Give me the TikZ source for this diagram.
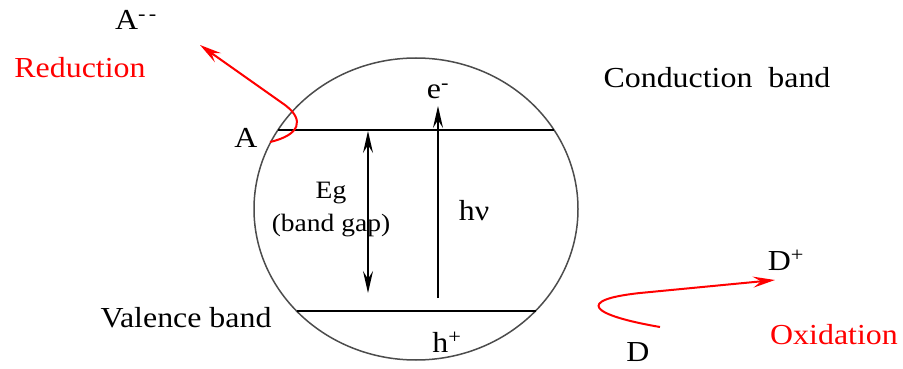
\documentclass[tikz,border=0pt]{standalone}
\usepackage{fontspec}
\setmainfont{Liberation Serif}[FakeStretch=1.1]
\usetikzlibrary{arrows.meta}
\begin{document}
\begin{tikzpicture}[x=1pt,y=-1pt,
  lbl/.style={inner sep=0pt,font=\fontsize{29}{32}\selectfont},
  small/.style={inner sep=0pt,font=\fontsize{25}{28}\selectfont},
  redlbl/.style={lbl,text=red},
  band/.style={line width=2pt,black},
  tip/.style={},
  arr/.style={line width=1.5pt,-{Stealth[length=22pt,width=10pt,inset=8pt]}},
  dblarr/.style={line width=1.5pt,{Stealth[length=22pt,width=10pt,inset=8pt]}-{Stealth[length=22pt,width=10pt,inset=8pt]}},
  redarr/.style={line width=2pt,red,-{Stealth[length=22pt,width=11pt,inset=8pt]}}]
\useasboundingbox (0,0) rectangle (903,369);
% particle
\draw[line width=1.5pt,black!70] (416,209) ellipse [x radius=162, y radius=151];
% bands
\coordinate (cbL) at (278,130);
\coordinate (cbR) at (554,130);
\coordinate (vbL) at (297,311);
\coordinate (vbR) at (536,311);
\draw[band] (cbL) -- (cbR);
\draw[band] (vbL) -- (vbR);
% labels
\node[lbl] (Am) at (136,20) {A\textsuperscript{-\,-}};
\node[redlbl] (red) at (80,68) {Reduction};
\node[lbl] (A) at (246,138) {A};
\node[lbl] (cb) at (717,78) {Conduction\ \ band};
\node[lbl] (e) at (438,91) {e\textsuperscript{-}};
\node[small] (eg) at (331,193) {Eg};
\node[small] (bg) at (331,226) {(band gap)};
\node[lbl] (hv) at (474,211) {hν};
\node[lbl] (vb) at (186,318) {Valence band};
\node[lbl] (hp) at (447,342) {h\textsuperscript{+}};
\node[lbl] (D) at (638,352) {D};
\node[lbl] (Dp) at (786,260) {D\textsuperscript{+}};
\node[redlbl] (ox) at (834,335) {Oxidation};
% arrows
\coordinate (egT) at (368,131);
\coordinate (egB) at (368,293);
\draw[dblarr] (egT) -- (egB);
\coordinate (hvB) at (438,298);
\coordinate (hvT) at (438,106);
\draw[arr] (hvB) -- (hvT);
% red curves
\coordinate (rS) at (270,142);
\coordinate (rE) at (200,45);
\draw[redarr] (rS) .. controls (300,135) and (305,120) .. (285,105) -- (rE);
\coordinate (oS) at (660,327);
\coordinate (oE) at (775,280);
\draw[redarr] (oS) .. controls (590,315) and (575,300) .. (640,293) -- (oE);
\end{tikzpicture}
\end{document}
